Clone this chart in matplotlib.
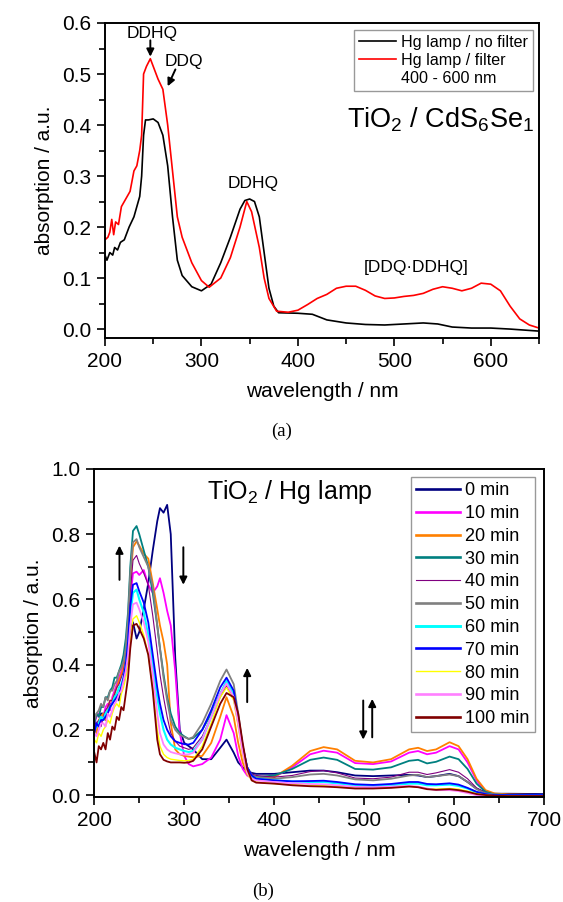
import numpy as np
import matplotlib
matplotlib.use("Agg")
import matplotlib.pyplot as plt
from matplotlib.lines import Line2D
from matplotlib.ticker import MultipleLocator, FormatStrFormatter

plt.rcParams['font.family'] = ['Liberation Sans', 'DejaVu Sans']
plt.rcParams['mathtext.fontset'] = 'custom'
plt.rcParams['mathtext.rm'] = 'Liberation Sans'
plt.rcParams['mathtext.it'] = 'Liberation Sans:italic'

# ---- panel (a): TiO2 / CdS6Se1 ----
wl_black = [200, 202, 205, 208, 210, 213, 216, 220, 225, 230, 233, 236, 238, 240, 242, 245, 250,
            255, 260, 265, 270, 275, 280, 290, 300, 310, 320, 330, 340, 345, 350, 355, 360, 365,
            370, 375, 380, 400, 415, 430, 450, 470, 490, 510, 530, 545, 560, 580, 600, 620, 650]
abs_black = [0.145, 0.135, 0.15, 0.145, 0.16, 0.155, 0.17, 0.175, 0.20, 0.22, 0.24, 0.26, 0.30,
             0.38, 0.41, 0.41, 0.412, 0.405, 0.38, 0.32, 0.22, 0.135, 0.105, 0.083, 0.075, 0.088,
             0.13, 0.18, 0.235, 0.252, 0.255, 0.25, 0.22, 0.15, 0.08, 0.045, 0.032, 0.031, 0.029,
             0.018, 0.012, 0.009, 0.008, 0.010, 0.012, 0.010, 0.004, 0.002, 0.002, 0.0, -0.004]

wl_red = [200, 203, 205, 207, 209, 211, 214, 217, 220, 223, 226, 230, 233, 236, 238, 240, 243,
          247, 250, 255, 260, 265, 270, 275, 280, 290, 300, 308, 320, 330, 340, 347, 352, 360,
          365, 370, 378, 390, 400, 410, 420, 430, 440, 450, 460, 470, 480, 490, 500, 510, 520,
          530, 540, 550, 560, 570, 580, 590, 600, 610, 620, 630, 640, 650]
abs_red = [0.175, 0.18, 0.19, 0.215, 0.185, 0.21, 0.205, 0.24, 0.25, 0.26, 0.27, 0.31, 0.32,
           0.35, 0.38, 0.50, 0.515, 0.53, 0.515, 0.49, 0.47, 0.40, 0.31, 0.22, 0.18, 0.13, 0.095,
           0.082, 0.10, 0.14, 0.20, 0.25, 0.23, 0.16, 0.10, 0.06, 0.035, 0.033, 0.037, 0.048,
           0.06, 0.068, 0.080, 0.084, 0.084, 0.076, 0.065, 0.060, 0.061, 0.064, 0.066, 0.070,
           0.078, 0.083, 0.080, 0.075, 0.080, 0.090, 0.088, 0.075, 0.045, 0.020, 0.008, 0.002]

# ---- panel (b): TiO2 / Hg lamp, time series ----
wl = [200, 202.5, 205, 207.5, 210, 212.5, 215, 217.5, 220, 222.5, 225, 227.5, 230, 232.5, 235,
      237.5, 240, 243, 247, 250, 255, 260, 265, 270, 273, 277, 281, 285, 290, 295, 300, 305,
      310, 320, 330, 340, 347, 355, 360, 365, 370, 375, 380, 400, 420, 440, 455, 470, 490, 510,
      530, 550, 560, 570, 580, 595, 605, 615, 625, 635, 645, 660, 700]

times = ['0 min', '10 min', '20 min', '30 min', '40 min', '50 min',
         '60 min', '70 min', '80 min', '90 min', '100 min']
colors = ['#000080', '#FF00FF', '#FF8000', '#008080', '#800080', '#808080',
          '#00FFFF', '#0000FF', '#FFFF00', '#FF80FF', '#800000']

t0 = [0.24, 0.21, 0.22, 0.25, 0.25, 0.23, 0.26, 0.28, 0.28, 0.30, 0.31, 0.29, 0.33, 0.35, 0.38,
      0.42, 0.50, 0.53, 0.48, 0.50, 0.57, 0.65, 0.75, 0.84, 0.88, 0.866, 0.89, 0.80, 0.42, 0.20,
      0.16, 0.15, 0.14, 0.11, 0.11, 0.145, 0.17, 0.13, 0.10, 0.085, 0.075, 0.068, 0.065, 0.065,
      0.07, 0.075, 0.075, 0.07, 0.06, 0.058, 0.06, 0.062, 0.06, 0.055, 0.058, 0.065, 0.058, 0.04,
      0.02, 0.008, 0.004, 0.004, 0.003]
t10 = [0.22, 0.24, 0.25, 0.22, 0.24, 0.27, 0.28, 0.26, 0.30, 0.32, 0.34, 0.36, 0.38, 0.40, 0.43,
       0.48, 0.60, 0.68, 0.685, 0.675, 0.69, 0.645, 0.62, 0.64, 0.665, 0.62, 0.565, 0.52, 0.38,
       0.19, 0.12, 0.095, 0.088, 0.095, 0.115, 0.17, 0.245, 0.19, 0.12, 0.08, 0.06, 0.052, 0.05,
       0.055, 0.085, 0.125, 0.136, 0.13, 0.098, 0.095, 0.103, 0.13, 0.135, 0.125, 0.13, 0.15,
       0.14, 0.10, 0.045, 0.01, -0.002, -0.005, -0.008]
t20 = [0.21, 0.19, 0.23, 0.24, 0.25, 0.23, 0.27, 0.29, 0.29, 0.31, 0.33, 0.35, 0.37, 0.39, 0.43,
       0.50, 0.65, 0.76, 0.778, 0.765, 0.74, 0.725, 0.65, 0.57, 0.52, 0.47, 0.40, 0.22, 0.14,
       0.125, 0.12, 0.118, 0.116, 0.12, 0.16, 0.24, 0.30, 0.24, 0.16, 0.10, 0.065, 0.055, 0.05,
       0.055, 0.09, 0.135, 0.147, 0.14, 0.105, 0.10, 0.11, 0.14, 0.145, 0.135, 0.14, 0.162, 0.15,
       0.11, 0.05, 0.015, 0.005, 0.002, 0.0]
t30 = [0.22, 0.25, 0.24, 0.27, 0.27, 0.30, 0.30, 0.32, 0.33, 0.36, 0.36, 0.38, 0.40, 0.43, 0.48,
       0.56, 0.70, 0.81, 0.825, 0.80, 0.75, 0.70, 0.62, 0.52, 0.45, 0.37, 0.30, 0.25, 0.21, 0.19,
       0.18, 0.172, 0.175, 0.20, 0.25, 0.31, 0.345, 0.30, 0.22, 0.14, 0.085, 0.062, 0.055, 0.06,
       0.08, 0.108, 0.115, 0.108, 0.08, 0.078, 0.085, 0.105, 0.108, 0.097, 0.102, 0.118, 0.11,
       0.08, 0.035, 0.01, 0.002, 0.0, 0.0]
t40 = [0.21, 0.22, 0.23, 0.21, 0.24, 0.26, 0.27, 0.29, 0.29, 0.31, 0.33, 0.34, 0.36, 0.38, 0.42,
       0.50, 0.62, 0.72, 0.735, 0.71, 0.68, 0.645, 0.55, 0.44, 0.37, 0.30, 0.24, 0.19, 0.165,
       0.15, 0.145, 0.14, 0.145, 0.18, 0.24, 0.30, 0.335, 0.30, 0.22, 0.14, 0.085, 0.065, 0.06,
       0.055, 0.06, 0.072, 0.075, 0.068, 0.052, 0.05, 0.055, 0.07, 0.07, 0.063, 0.068, 0.078,
       0.07, 0.05, 0.022, 0.006, 0.002, 0.0, 0.0]
t50 = [0.23, 0.25, 0.26, 0.28, 0.27, 0.30, 0.29, 0.32, 0.32, 0.34, 0.35, 0.38, 0.39, 0.41, 0.45,
       0.54, 0.68, 0.775, 0.785, 0.76, 0.73, 0.70, 0.64, 0.52, 0.45, 0.36, 0.29, 0.23, 0.20,
       0.185, 0.178, 0.172, 0.178, 0.22, 0.28, 0.35, 0.385, 0.34, 0.25, 0.15, 0.085, 0.06, 0.055,
       0.05, 0.055, 0.063, 0.065, 0.06, 0.048, 0.045, 0.05, 0.06, 0.062, 0.055, 0.058, 0.063,
       0.058, 0.04, 0.018, 0.005, 0.002, 0.0, 0.0]
t60 = [0.20, 0.21, 0.22, 0.24, 0.23, 0.25, 0.26, 0.27, 0.28, 0.30, 0.31, 0.33, 0.34, 0.36, 0.40,
       0.46, 0.55, 0.62, 0.63, 0.60, 0.56, 0.49, 0.40, 0.30, 0.25, 0.20, 0.17, 0.155, 0.145,
       0.14, 0.135, 0.132, 0.135, 0.17, 0.24, 0.31, 0.35, 0.31, 0.23, 0.14, 0.08, 0.058, 0.05,
       0.045, 0.042, 0.04, 0.04, 0.036, 0.03, 0.028, 0.03, 0.035, 0.035, 0.03, 0.03, 0.032,
       0.028, 0.02, 0.008, 0.002, 0.0, 0.0, 0.0]
t70 = [0.19, 0.22, 0.21, 0.23, 0.23, 0.24, 0.25, 0.27, 0.28, 0.29, 0.30, 0.31, 0.33, 0.36, 0.40,
       0.47, 0.58, 0.645, 0.65, 0.625, 0.59, 0.53, 0.43, 0.33, 0.28, 0.23, 0.20, 0.18, 0.165,
       0.16, 0.156, 0.155, 0.16, 0.20, 0.26, 0.33, 0.36, 0.32, 0.24, 0.15, 0.085, 0.06, 0.05,
       0.045, 0.042, 0.043, 0.044, 0.04, 0.033, 0.031, 0.034, 0.04, 0.04, 0.034, 0.033, 0.036,
       0.032, 0.022, 0.01, 0.003, 0.0, 0.0, 0.0]
t80 = [0.17, 0.16, 0.19, 0.18, 0.20, 0.21, 0.23, 0.22, 0.25, 0.27, 0.28, 0.27, 0.31, 0.33, 0.36,
       0.40, 0.48, 0.54, 0.55, 0.53, 0.49, 0.43, 0.33, 0.20, 0.15, 0.125, 0.115, 0.11, 0.108,
       0.106, 0.105, 0.106, 0.11, 0.15, 0.22, 0.30, 0.33, 0.29, 0.21, 0.12, 0.065, 0.045, 0.04,
       0.035, 0.032, 0.03, 0.03, 0.027, 0.022, 0.022, 0.025, 0.028, 0.025, 0.02, 0.018, 0.02,
       0.018, 0.012, 0.004, 0.0, -0.002, -0.003, -0.004]
t90 = [0.19, 0.18, 0.20, 0.22, 0.22, 0.21, 0.25, 0.24, 0.26, 0.28, 0.29, 0.31, 0.32, 0.35, 0.38,
       0.43, 0.52, 0.585, 0.59, 0.57, 0.53, 0.47, 0.37, 0.25, 0.19, 0.155, 0.14, 0.132, 0.128,
       0.125, 0.124, 0.125, 0.13, 0.17, 0.24, 0.31, 0.342, 0.30, 0.22, 0.13, 0.07, 0.05, 0.045,
       0.04, 0.036, 0.034, 0.033, 0.03, 0.025, 0.024, 0.026, 0.028, 0.026, 0.02, 0.015, 0.015,
       0.012, 0.006, 0.0, -0.005, -0.008, -0.009, -0.01]
t100 = [0.13, 0.10, 0.15, 0.14, 0.16, 0.14, 0.19, 0.17, 0.21, 0.20, 0.24, 0.23, 0.27, 0.26,
        0.31, 0.36, 0.45, 0.52, 0.525, 0.51, 0.48, 0.43, 0.32, 0.17, 0.125, 0.108, 0.103, 0.10,
        0.10, 0.10, 0.099, 0.10, 0.105, 0.14, 0.21, 0.28, 0.313, 0.30, 0.25, 0.16, 0.08, 0.045,
        0.038, 0.035, 0.03, 0.027, 0.026, 0.024, 0.02, 0.02, 0.022, 0.026, 0.024, 0.018, 0.016,
        0.018, 0.015, 0.01, 0.003, 0.0, -0.002, -0.003, -0.003]
series_b = [t0, t10, t20, t30, t40, t50, t60, t70, t80, t90, t100]
widths_b = [1.3, 1.3, 1.3, 1.3, 0.8, 1.3, 1.5, 1.3, 1.0, 1.3, 1.3]


def style_axes(ax, xmaj, ymaj):
    for s in ax.spines.values():
        s.set_linewidth(1.4)
    ax.xaxis.set_major_locator(MultipleLocator(xmaj))
    ax.xaxis.set_minor_locator(MultipleLocator(xmaj / 2))
    ax.yaxis.set_major_locator(MultipleLocator(ymaj))
    ax.yaxis.set_minor_locator(MultipleLocator(ymaj / 2))
    ax.yaxis.set_major_formatter(FormatStrFormatter('%.1f'))
    ax.tick_params(which='both', direction='out', top=False, right=False,
                   labelsize=15, width=1.2, pad=4)
    ax.tick_params(which='major', length=6)
    ax.tick_params(which='minor', length=4)
    ax.set_xlabel('wavelength / nm', fontsize=15, labelpad=8)
    ax.set_ylabel('absorption / a.u.', fontsize=15, labelpad=6)


def arrow(ax, x0, y0, x1, y1):
    ax.annotate('', xy=(x1, y1), xytext=(x0, y0),
                arrowprops=dict(arrowstyle='-|>', color='black', lw=1.4,
                                mutation_scale=11, shrinkA=0, shrinkB=0))


fig = plt.figure(figsize=(5.63, 9.02), dpi=100)

# panel (a)
ax1 = fig.add_axes([105 / 563, 1 - 338 / 902, 434 / 563, 315 / 902])
ax1.plot(wl_black, abs_black, color='black', lw=1.2, label='Hg lamp / no filter')
ax1.plot(wl_red, abs_red, color='#FF0000', lw=1.2, label='Hg lamp / filter')
ax1.set_xlim(200, 650)
ax1.set_ylim(-0.0175, 0.6)
style_axes(ax1, 100, 0.1)

h1, l1 = ax1.get_legend_handles_labels()
h1.append(Line2D([], [], linestyle='none'))
l1.append('400 - 600 nm')
leg1 = ax1.legend(h1, l1, loc='upper right', bbox_to_anchor=(0.986, 0.978), borderaxespad=0,
                  fontsize=11.6, frameon=True, fancybox=False, edgecolor='#808080',
                  handlelength=2.3, handletextpad=0.3, labelspacing=0.2, borderpad=0.3)
leg1.get_frame().set_linewidth(1.0)

ax1.text(645, 0.41, 'TiO$_2$ / CdS$_6$Se$_1$', fontsize=19.5, ha='right', va='center')
ax1.text(248.5, 0.579, 'DDHQ', fontsize=12.5, ha='center', va='center')
arrow(ax1, 247, 0.566, 247, 0.534)
ax1.text(282, 0.524, 'DDQ', fontsize=12.5, ha='center', va='center')
arrow(ax1, 273, 0.509, 265, 0.476)
ax1.text(353.7, 0.286, 'DDHQ', fontsize=12.5, ha='center', va='center')
ax1.text(522.6, 0.12, '[DDQ·DDHQ]', fontsize=12.5, ha='center', va='center')
fig.text(282 / 563, 1 - 431 / 902, '(a)', fontsize=13.5, ha='center', va='center',
         family='Liberation Serif')

# panel (b)
ax2 = fig.add_axes([94.3 / 563, 1 - 797 / 902, 449.7 / 563, 328 / 902])
for vals, c, lw, lab in zip(series_b, colors, widths_b, times):
    ax2.plot(wl, vals, color=c, lw=lw, label=lab)
ax2.set_xlim(200, 700)
ax2.set_ylim(-0.006, 1.0)
style_axes(ax2, 100, 0.2)

leg2 = ax2.legend(loc='upper right', bbox_to_anchor=(0.98, 0.976), borderaxespad=0,
                  fontsize=13, frameon=True, fancybox=False, edgecolor='#808080',
                  handlelength=2.4, handletextpad=0.3, labelspacing=0.32, borderpad=0.3)
leg2.get_frame().set_linewidth(1.0)
# thin traces stay thin in the legend too
for line, lw in zip(leg2.get_lines(), widths_b):
    line.set_linewidth(lw + 0.6 if lw > 1.0 else lw)

ax2.text(325, 0.93, 'TiO$_2$ / Hg lamp', fontsize=18, ha='left', va='center')
arrow(ax2, 228, 0.66, 228, 0.765)
arrow(ax2, 299, 0.76, 299, 0.645)
arrow(ax2, 370, 0.285, 370, 0.39)
arrow(ax2, 499, 0.29, 499, 0.17)
arrow(ax2, 509, 0.177, 509, 0.295)
fig.text(263 / 563, 1 - 891 / 902, '(b)', fontsize=13.5, ha='center', va='center',
         family='Liberation Serif')

fig.savefig('out.png', dpi=100)
